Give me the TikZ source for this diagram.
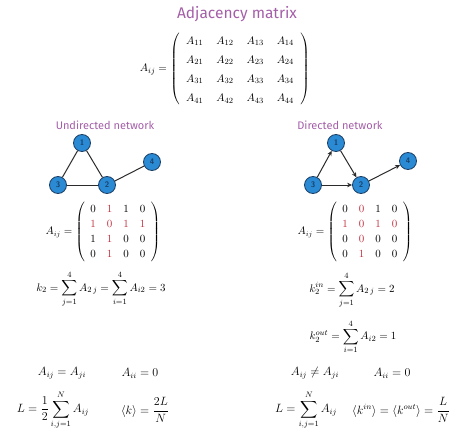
\documentclass[tikz,border=0pt]{standalone}
\usepackage{amsmath}
\usepackage{fontspec}
\setmainfont{Liberation Serif}
\newfontfamily\headfont{Fira Sans}
\usetikzlibrary{arrows.meta}
\definecolor{adjpurple}{HTML}{A45EA8}
\definecolor{adjblue}{HTML}{2A8AD4}
\definecolor{adjnavy}{HTML}{1B3F66}
\definecolor{adjred}{HTML}{C0303F}
\definecolor{adjedge}{HTML}{2B2B2B}
\newcommand{\rd}[1]{\textcolor{adjred}{#1}}

\begin{document}
\begin{tikzpicture}[x=1pt, y=-1pt,
    heading/.style={font=\headfont\fontsize{11}{13}\selectfont, text=adjpurple, inner sep=0pt},
    vertex/.style={circle, draw=adjnavy, fill=adjblue, line width=0.8pt, minimum size=17pt, inner sep=0pt, font=\sffamily\bfseries\footnotesize, text=adjnavy},
    link/.style={line width=1pt, draw=adjedge},
    arc/.style={link, -{Stealth[length=5pt, width=4.5pt]}},
    formula/.style={inner sep=0pt, font=\fontsize{12}{14}\selectfont},
    degree/.style={formula, font=\fontsize{11}{13}\selectfont}]
    \useasboundingbox (0,0) rectangle (474,436);

    % Title and general matrix
    \node[heading, font=\headfont\fontsize{15.5}{18}\selectfont] (title) at (237,14) {Adjacency matrix};
    \node[formula, font=\fontsize{11}{13.6}\selectfont] (adj) at (225,69) {%
        $A_{ij} = \renewcommand{\arraystretch}{1.4}\setlength{\arraycolsep}{6.5pt}
        \left(\begin{array}{cccc}
            A_{11} & A_{12} & A_{13} & A_{14}\\
            A_{21} & A_{22} & A_{23} & A_{24}\\
            A_{31} & A_{32} & A_{33} & A_{34}\\
            A_{41} & A_{42} & A_{43} & A_{44}
        \end{array}\right)$};

    % Undirected network
    \node[heading] (undir) at (105,125) {Undirected network};
    \foreach \n/\x/\y in {1/82/143, 2/107/185, 3/58/185, 4/152/162}
        \node[vertex] (u\n) at (\x,\y) {\n};
    \draw[link] (u1) -- (u2);
    \draw[link] (u1) -- (u3);
    \draw[link] (u3) -- (u2);
    \draw[link] (u2) -- (u4);

    \node[formula, font=\fontsize{10.5}{12.6}\selectfont] (umat) at (103,232) {%
        $A_{ij} = \renewcommand{\arraystretch}{1.17}\setlength{\arraycolsep}{5.5pt}
        \left(\begin{array}{cccc}
            0 & \rd{1} & 1 & 0\\
            \rd{1} & \rd{0} & \rd{1} & \rd{1}\\
            1 & \rd{1} & 0 & 0\\
            0 & \rd{1} & 0 & 0
        \end{array}\right)$};

    \node[degree] (udeg) at (101,289) {$\displaystyle k_2 = \sum_{j=1}^{4} A_{2\,j} = \sum_{i=1}^{4} A_{i2} = 3$};
    \node[formula] (usym) at (62,373) {$A_{ij} = A_{ji}$};
    \node[formula] (uloop) at (140,373) {$A_{ii} = 0$};
    \node[formula] (ulinks) at (53,410) {$\displaystyle L = \frac{1}{2}\sum_{i,j=1}^{N} A_{ij}$};
    \node[formula] (umean) at (145,410) {$\displaystyle \langle k\rangle = \frac{2L}{N}$};

    % Directed network
    \node[heading] (dir) at (340,125) {Directed network};
    \foreach \n/\x/\y in {1/336/143, 2/361/185, 3/313/185, 4/408/161}
        \node[vertex] (d\n) at (\x,\y) {\n};
    \draw[arc] (d3) -- (d1);
    \draw[arc] (d1) -- (d2);
    \draw[arc] (d3) -- (d2);
    \draw[arc] (d2) -- (d4);

    \node[formula, font=\fontsize{10.5}{12.6}\selectfont] (dmat) at (355,232) {%
        $A_{ij} = \renewcommand{\arraystretch}{1.17}\setlength{\arraycolsep}{5.5pt}
        \left(\begin{array}{cccc}
            0 & \rd{0} & 1 & 0\\
            \rd{1} & \rd{0} & \rd{1} & \rd{0}\\
            0 & \rd{0} & 0 & 0\\
            0 & \rd{1} & 0 & 0
        \end{array}\right)$};

    \node[degree] (dindeg) at (352,290) {$\displaystyle k_2^{in} = \sum_{j=1}^{4} A_{2\,j} = 2$};
    \node[degree] (doutdeg) at (353,337) {$\displaystyle k_2^{out} = \sum_{i=1}^{4} A_{i2} = 1$};
    \node[formula] (dasym) at (315,373) {$A_{ij} \neq A_{ji}$};
    \node[formula] (dloop) at (392,373) {$A_{ii} = 0$};
    \node[formula] (dlinks) at (306,410) {$\displaystyle L = \sum_{i,j=1}^{N} A_{ij}$};
    \node[formula] (dmean) at (401,410) {$\displaystyle \langle k^{in}\rangle = \langle k^{out}\rangle = \frac{L}{N}$};
\end{tikzpicture}
\end{document}
